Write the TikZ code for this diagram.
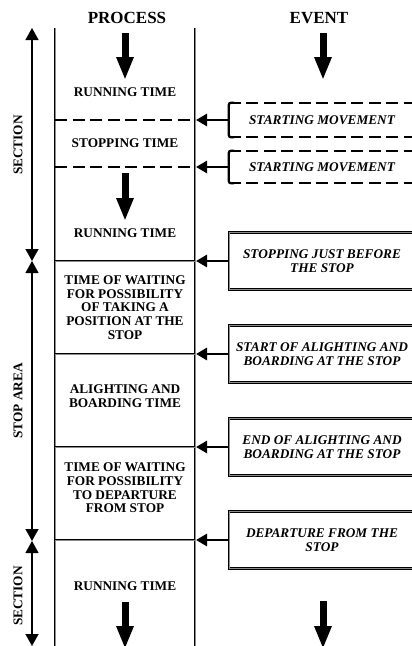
\documentclass[tikz,border=0pt]{standalone}
\usepackage{fontspec}
\setmainfont{Liberation Serif}
\usetikzlibrary{arrows.meta}
\begin{document}
\begin{tikzpicture}[x=1pt,y=-1pt,
  ptxt/.style={font=\fontsize{13.3}{13.7}\selectfont\bfseries, align=center, inner sep=0pt},
  etxt/.style={font=\fontsize{13.3}{13.7}\selectfont\bfseries\itshape, align=center, inner sep=0pt},
  headtxt/.style={font=\fontsize{17}{17}\selectfont\bfseries, inner sep=0pt},
  sidetxt/.style={font=\fontsize{13.3}{13.7}\selectfont\bfseries, inner sep=0pt, rotate=90},
  heavy/.style={draw=black, line width=1pt, double=black!45, double distance=0.7pt},
  sboxstyle/.style={heavy, minimum width=186pt, minimum height=57pt, inner sep=0pt, etxt},
  dboxstyle/.style={minimum width=186pt, inner sep=0pt, etxt},
  dashline/.style={draw=black, line width=2.4pt, dash pattern=on 12pt off 5.5pt},
  bracketline/.style={draw=black, line width=2.2pt, rounded corners=2pt},
  evarrow/.style={draw=black, line width=2.8pt, -{Triangle[length=11pt,width=12pt]}},
  bigarrow/.style={draw=black, line width=7pt, -{Triangle[length=23pt,width=16pt]}},
  dimarrow/.style={draw=black, line width=1.3pt, {Triangle[length=12pt,width=13pt]}-{Triangle[length=12pt,width=13pt]}}
]
\useasboundingbox (0,0) rectangle (412,646);
\clip (0,0) rectangle (412,646);

% column lines
\coordinate (lt) at (55,28);
\coordinate (lb) at (55,650);
\coordinate (rt) at (195,28);
\coordinate (rb) at (195,650);
\draw[heavy] (lt) -- (lb);
\draw[heavy] (rt) -- (rb);

% headings
\node[headtxt] (hp) at (127,18) {PROCESS};
\node[headtxt] (he) at (319,18) {EVENT};

% big arrows
\coordinate (pa1s) at (125,33);  \coordinate (pa1e) at (125,80);
\coordinate (pa2s) at (125,173); \coordinate (pa2e) at (125,221);
\coordinate (pa3s) at (125,602); \coordinate (pa3e) at (125,649);
\coordinate (ea1s) at (323,33);  \coordinate (ea1e) at (323,80);
\coordinate (ea2s) at (323,601); \coordinate (ea2e) at (323,649);
\draw[bigarrow] (pa1s) -- (pa1e);
\draw[bigarrow] (pa2s) -- (pa2e);
\draw[bigarrow] (pa3s) -- (pa3e);
\draw[bigarrow] (ea1s) -- (ea1e);
\draw[bigarrow] (ea2s) -- (ea2e);

% process texts
\node[ptxt] (p1) at (125,92) {RUNNING TIME};
\node[ptxt] (p2) at (125,143) {STOPPING TIME};
\node[ptxt] (p3) at (125,233) {RUNNING TIME};
\node[ptxt] (p4) at (125,307.5) {TIME OF WAITING\\FOR POSSIBILITY\\OF TAKING A\\POSITION AT THE\\STOP};
\node[ptxt] (p5) at (125,396.5) {ALIGHTING AND\\BOARDING TIME};
\node[ptxt] (p6) at (125,488) {TIME OF WAITING\\FOR POSSIBILITY\\TO DEPARTURE\\FROM STOP};
\node[ptxt] (p7) at (125,586) {RUNNING TIME};

% event boxes
\node[dboxstyle, minimum height=34pt] (e1) at (322,120) {STARTING MOVEMENT};
\node[dboxstyle, minimum height=32pt] (e2) at (322,167) {STARTING MOVEMENT};
\node[sboxstyle] (e3) at (322,261) {STOPPING JUST BEFORE\\THE STOP};
\node[sboxstyle] (e4) at (322,354) {START OF ALIGHTING AND\\BOARDING AT THE STOP};
\node[sboxstyle] (e5) at (322,447) {END OF ALIGHTING AND\\BOARDING AT THE STOP};
\node[sboxstyle] (e6) at (322,540) {DEPARTURE FROM THE\\STOP};

% dashed box borders
\foreach \b in {e1,e2}{
  \draw[dashline] (\b.north west) -- (\b.north east);
  \draw[dashline] (\b.south west) -- (\b.south east);
  \draw[bracketline] ([xshift=5pt]\b.north west) -- (\b.north west) -- (\b.south west) -- ([xshift=5pt]\b.south west);
}

% process separators
\draw[dashline] (e1.west -| lt) -- (e1.west -| rt);
\draw[dashline] (e2.west -| lt) -- (e2.west -| rt);
\draw[heavy] (e3.west -| lt) -- (e3.west -| rt);
\draw[heavy] (e4.west -| lt) -- (e4.west -| rt);
\draw[heavy] (e5.west -| lt) -- (e5.west -| rt);
\draw[heavy] (e6.west -| lt) -- (e6.west -| rt);

% event arrows
\foreach \b in {e1,e2,e3,e4,e5,e6}{
  \draw[evarrow] (\b.west) -- ([xshift=1pt]\b.west -| rt);
}

% side dimension arrows
\coordinate (a0) at (32,28);
\coordinate (a1) at (32,261);
\coordinate (a2) at (32,541);
\coordinate (a3) at (32,646);
\draw[dimarrow] (a0) -- (a1);
\draw[dimarrow] (a1) -- (a2);
\draw[dimarrow] (a2) -- (a3);

\node[sidetxt] (s1) at (18,145) {SECTION};
\node[sidetxt] (s2) at (18,401) {STOP AREA};
\node[sidetxt] (s3) at (18,596) {SECTION};
\end{tikzpicture}
\end{document}
